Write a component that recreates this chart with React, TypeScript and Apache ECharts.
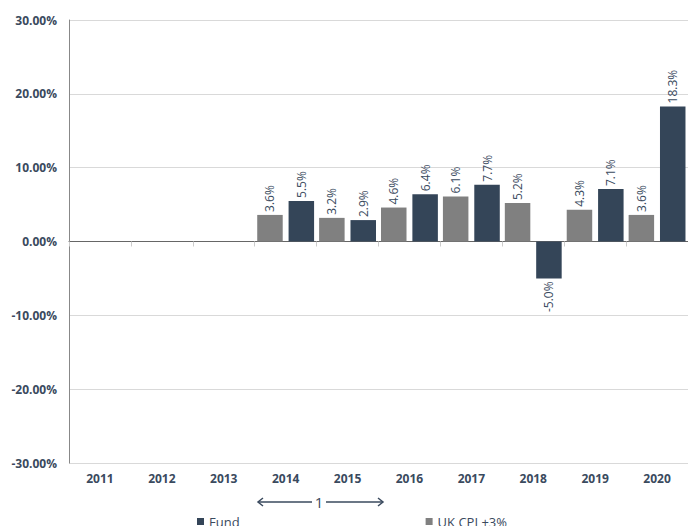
import React, { useEffect, useRef } from "react";
import * as echarts from "echarts";

const categories = ["2011", "2012", "2013", "2014", "2015", "2016", "2017", "2018", "2019", "2020"];
const cpiValues: (number | null)[] = [null, null, null, 3.6, 3.2, 4.6, 6.1, 5.2, 4.3, 3.6];
const fundValues: (number | null)[] = [null, null, null, 5.5, 2.9, 6.4, 7.7, -5.0, 7.1, 18.3];
const seriesNames = ["Fund", "UK CPI +3%"];
const periodLabel = "1";

const TEXT = "#3a4a5e";
const FONT = "Open Sans";

function toData(vals: (number | null)[]) {
  return vals.map((v) => {
    if (v === null) return null;
    if (v < 0) {
      return {
        value: v,
        label: { position: "bottom", align: "right", distance: 3 },
      };
    }
    return v;
  });
}

export default function App() {
  const ref = useRef<HTMLDivElement>(null);
  useEffect(() => {
    if (!ref.current) return;
    const chart = echarts.init(ref.current, null, { renderer: "svg" });
    const barLabel = {
      show: true,
      position: "top",
      rotate: 90,
      align: "left",
      verticalAlign: "middle",
      distance: 3,
      color: TEXT,
      fontFamily: FONT,
      fontSize: 12,
      formatter: (p: any) => Number(p.value).toFixed(1) + "%",
    };
    chart.setOption({
      animation: false,
      grid: { left: 69, right: -5, top: 20, bottom: 63, containLabel: false },
      legend: {
        data: seriesNames,
        left: 192,
        top: 510,
        icon: "rect",
        itemWidth: 7,
        itemHeight: 7,
        itemGap: 186,
        textStyle: { color: TEXT, fontFamily: FONT, fontSize: 13 },
      },
      xAxis: [
        {
          type: "category",
          data: categories,
          axisLine: { show: false, onZero: false },
          axisTick: { show: false },
          axisLabel: {
            color: TEXT,
            fontFamily: FONT,
            fontWeight: "bold",
            fontSize: 12,
            margin: 9,
          },
        },
        {
          type: "category",
          data: categories,
          position: "bottom",
          axisLine: { show: true, onZero: true, lineStyle: { color: "#666", width: 1 } },
          axisTick: { show: true, length: 5, lineStyle: { color: "#ccc" } },
          axisLabel: { show: false },
        },
      ],
      yAxis: {
        type: "value",
        min: -30,
        max: 30,
        interval: 10,
        axisLine: { show: true, lineStyle: { color: "#888" } },
        axisTick: { show: false },
        splitLine: { lineStyle: { color: "#d9d9d9" } },
        axisLabel: {
          color: TEXT,
          fontFamily: FONT,
          fontWeight: "bold",
          fontSize: 12,
          margin: 12,
          formatter: (v: number) => v.toFixed(2) + "%",
        },
      },
      series: [
        {
          name: seriesNames[1],
          type: "bar",
          data: toData(cpiValues),
          itemStyle: { color: "#808080" },
          barWidth: 25.5,
          barGap: "23%",
          label: barLabel,
        },
        {
          name: seriesNames[0],
          type: "bar",
          data: toData(fundValues),
          itemStyle: { color: "#344558" },
          barWidth: 25.5,
          barGap: "23%",
          label: barLabel,
        },
      ],
      graphic: [
        { type: "line", shape: { x1: 258, y1: 502, x2: 312, y2: 502 }, style: { stroke: TEXT, lineWidth: 1.5 } },
        { type: "line", shape: { x1: 326, y1: 502, x2: 383, y2: 502 }, style: { stroke: TEXT, lineWidth: 1.5 } },
        { type: "polyline", shape: { points: [[263, 498], [258, 502], [263, 506]] }, style: { stroke: TEXT, lineWidth: 1.5, fill: "none" } },
        { type: "polyline", shape: { points: [[378, 498], [383, 502], [378, 506]] }, style: { stroke: TEXT, lineWidth: 1.5, fill: "none" } },
        {
          type: "text",
          x: 319,
          y: 502,
          style: {
            text: periodLabel,
            fill: TEXT,
            fontFamily: FONT,
            fontSize: 15,
            align: "center",
            verticalAlign: "middle",
          },
        },
      ],
    });
    return () => chart.dispose();
  }, []);
  return <div ref={ref} style={{ width: 688, height: 526, position: "absolute", left: 0, top: 0 }} />;
}
